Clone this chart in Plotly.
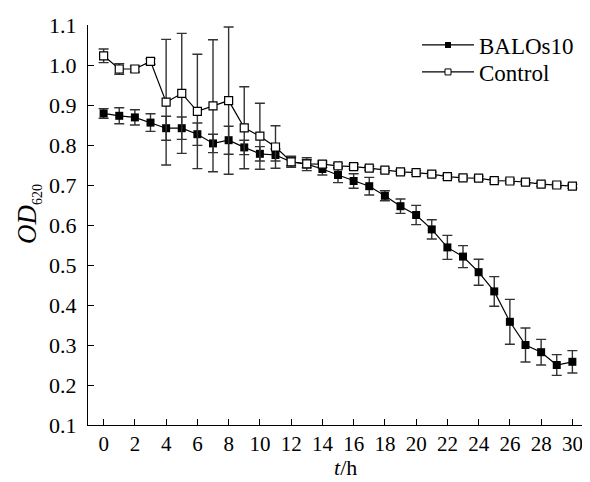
import plotly.graph_objects as go

hours = list(range(0, 31))
balos = [0.879, 0.873, 0.869, 0.856, 0.842, 0.842, 0.827, 0.804, 0.812, 0.794,
         0.778, 0.775, 0.758, 0.752, 0.740, 0.725, 0.710, 0.697, 0.673, 0.647,
         0.625, 0.589, 0.544, 0.521, 0.482, 0.434, 0.358, 0.300, 0.282, 0.250, 0.258]
balos_err = [0.012, 0.02, 0.019, 0.022, 0.03, 0.028, 0.028, 0.023, 0.035, 0.018,
             0.018, 0.015, 0.014, 0.016, 0.015, 0.019, 0.018, 0.022, 0.0125, 0.018,
             0.024, 0.024, 0.03, 0.0275, 0.0325, 0.037, 0.056, 0.0425, 0.032, 0.026, 0.028]
control = [1.023, 0.990, 0.990, 1.009, 0.907, 0.929, 0.884, 0.898, 0.911, 0.843,
           0.822, 0.795, 0.758, 0.753, 0.752, 0.748, 0.746, 0.742, 0.737, 0.733,
           0.731, 0.727, 0.721, 0.718, 0.717, 0.711, 0.710, 0.707, 0.702, 0.700, 0.697]
control_err = [0.017, 0.013, 0.0075, 0.007, 0.157, 0.15, 0.143, 0.165, 0.184, 0.1025,
               0.0825, 0.053, 0.01, 0.01, 0.008, 0.006, 0.006, 0.005, 0.005, 0.005,
               0.005, 0.005, 0.005, 0.005, 0.005, 0.005, 0.005, 0.005, 0.005, 0.005, 0.005]

x_ticks = list(range(0, 31, 2))
y_ticks = [0.1, 0.2, 0.3, 0.4, 0.5, 0.6, 0.7, 0.8, 0.9, 1.0, 1.1]
y_labels = ["0.1", "0.2", "0.3", "0.4", "0.5", "0.6", "0.7", "0.8", "0.9", "1.0", "1.1"]

FONT = "Liberation Serif, Times New Roman, serif"

fig = go.Figure()
fig.add_trace(go.Scatter(
    x=hours, y=balos, name="BALOs10", mode="lines+markers", showlegend=False,
    line=dict(color="black", width=1.2),
    marker=dict(symbol="square", size=8, color="black", line=dict(color="black", width=0)),
    error_y=dict(type="data", array=balos_err, visible=True, color="#333333", thickness=1.4, width=5),
))
fig.add_trace(go.Scatter(
    x=hours, y=control, name="Control", mode="lines+markers", showlegend=False,
    line=dict(color="black", width=1.2),
    marker=dict(symbol="square", size=8, color="white", line=dict(color="black", width=1.2)),
    error_y=dict(type="data", array=control_err, visible=True, color="#333333", thickness=1.4, width=5),
))
# legend entries (smaller markers, as in the reference legend)
fig.add_trace(go.Scatter(
    x=[None], y=[None], name="BALOs10", mode="lines+markers", legend="legend",
    line=dict(color="black", width=1.2),
    marker=dict(symbol="square", size=6, color="black"),
))
fig.add_trace(go.Scatter(
    x=[None], y=[None], name="Control", mode="lines+markers", legend="legend2",
    line=dict(color="black", width=1.2),
    marker=dict(symbol="square", size=6, color="white", line=dict(color="black", width=1)),
))

legend_style = dict(xanchor="left", yanchor="middle", bgcolor="rgba(0,0,0,0)",
                    font=dict(family=FONT, size=23, color="black"), itemwidth=52)

# the page body has an 8px margin, so the figure is 8px smaller and margins compensate
fig.update_layout(
    width=582, height=474,
    margin=dict(l=80, r=2, t=17, b=57, autoexpand=False),
    paper_bgcolor="white", plot_bgcolor="white",
    font=dict(family=FONT, size=21, color="black"),
    showlegend=True,
    legend=dict(x=0.658, y=0.95, **legend_style),
    legend2=dict(x=0.658, y=0.8825, **legend_style),
    xaxis=dict(
        range=[-1, 31], tickvals=x_ticks, ticktext=[str(v) for v in x_ticks],
        ticks="inside", ticklen=6, tickwidth=1, tickcolor="black",
        showline=True, linecolor="black", linewidth=1.2,
        showgrid=False, zeroline=False, automargin=False,
        tickfont=dict(family=FONT, size=21, color="black"),
    ),
    yaxis=dict(
        range=[0.1, 1.1], tickvals=y_ticks, ticktext=y_labels,
        ticks="inside", ticklen=6, tickwidth=1, tickcolor="black",
        showline=True, linecolor="black", linewidth=1.2,
        showgrid=False, zeroline=False, automargin=False,
        ticklabelstandoff=6,
        tickfont=dict(family=FONT, size=22, color="black"),
    ),
    annotations=[
        dict(text="<i>OD</i><sub><span style='font-size:14px'>620</span></sub>",
             xref="paper", yref="paper", x=-0.12, y=0.5275,
             xanchor="center", yanchor="middle", textangle=-90, showarrow=False,
             font=dict(family=FONT, size=27, color="black")),
        dict(text="<i>t</i>/h",
             xref="paper", yref="paper", x=0.514, y=-0.106,
             xanchor="center", yanchor="middle", showarrow=False,
             font=dict(family=FONT, size=22, color="black")),
    ],
)

fig.write_html("out.html")
